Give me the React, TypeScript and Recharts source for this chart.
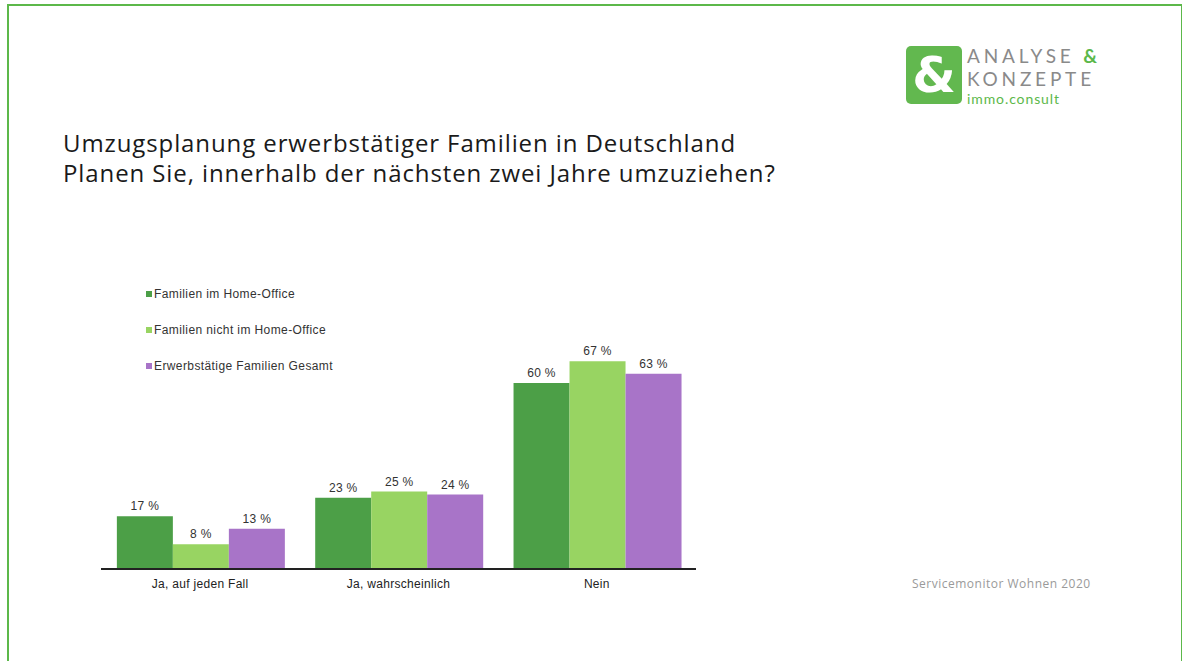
import React from "react";
import { BarChart, Bar, XAxis, YAxis, LabelList } from "recharts";

const categories = ["Ja, auf jeden Fall", "Ja, wahrscheinlich", "Nein"];
const homeOffice = [17, 23, 60];
const nichtHomeOffice = [8, 25, 67];
const gesamt = [13, 24, 63];

const seriesNames = [
  "Familien im Home-Office",
  "Familien nicht im Home-Office",
  "Erwerbstätige Familien Gesamt",
];
const seriesColors = ["#4c9f47", "#98d462", "#a874c8"];
const seriesKeys = ["homeOffice", "nichtHomeOffice", "gesamt"];

const data = categories.map((name, i) => ({
  name,
  homeOffice: homeOffice[i],
  nichtHomeOffice: nichtHomeOffice[i],
  gesamt: gesamt[i],
}));

const chartFont = "'Liberation Sans', Arial, sans-serif";

const logoLine: React.CSSProperties = {
  position: "absolute",
  left: 967,
  fontFamily: "Lato, sans-serif",
  color: "#8a8a8a",
  fontSize: 19,
  letterSpacing: 3.8,
  whiteSpace: "nowrap",
};

export default function App() {
  return (
    <div
      style={{
        position: "absolute",
        left: 0,
        top: 0,
        width: 1182,
        height: 661,
        background: "#fff",
        overflow: "hidden",
      }}
    >
      {/* green frame */}
      <div
        style={{
          position: "absolute",
          left: 7,
          top: 4,
          width: 1172,
          height: 700,
          border: "2px solid #5cb84a",
        }}
      />

      {/* logo */}
      <div
        style={{
          position: "absolute",
          left: 906,
          top: 46,
          width: 56,
          height: 58,
          background: "#62b84f",
          borderRadius: 5,
          color: "#fff",
          fontFamily: "'DejaVu Sans', sans-serif",
          fontWeight: "bold",
          fontSize: 50,
          lineHeight: "58px",
          textAlign: "center",
        }}
      >
        &amp;
      </div>
      <div style={{ ...logoLine, top: 44 }}>
        ANALYSE <span style={{ color: "#5cb84a", fontWeight: 700 }}>&amp;</span>
      </div>
      <div style={{ ...logoLine, top: 67 }}>KONZEPTE</div>
      <div
        style={{
          ...logoLine,
          top: 90,
          color: "#5cb84a",
          fontSize: 14,
          letterSpacing: 0.9,
        }}
      >
        immo.consult
      </div>

      {/* title */}
      <div
        style={{
          position: "absolute",
          left: 63,
          top: 128,
          fontFamily: "'Open Sans', sans-serif",
          fontSize: 24,
          letterSpacing: 0.9,
          lineHeight: "30px",
          color: "#1a1a1a",
          whiteSpace: "nowrap",
        }}
      >
        <div>Umzugsplanung erwerbstätiger Familien in Deutschland</div>
        <div>Planen Sie, innerhalb der nächsten zwei Jahre umzuziehen?</div>
      </div>

      {/* legend */}
      <div
        style={{
          position: "absolute",
          left: 146,
          top: 276,
          fontFamily: chartFont,
          fontSize: 12,
          letterSpacing: 0.4,
          color: "#333",
        }}
      >
        {seriesNames.map((n, i) => (
          <div key={n} style={{ display: "flex", alignItems: "center", height: 36 }}>
            <span
              style={{
                display: "inline-block",
                width: 6,
                height: 6,
                background: seriesColors[i],
                marginRight: 2,
              }}
            />
            {n}
          </div>
        ))}
      </div>

      <div style={{ position: "absolute", left: 0, top: 0 }}>
        <BarChart
          width={1182}
          height={661}
          data={data}
          margin={{ top: 352, right: 486, bottom: 62, left: 101 }}
          barCategoryGap="8%"
          barGap={0}
        >
          <XAxis
            dataKey="name"
            axisLine={{ stroke: "#222", strokeWidth: 2 }}
            tickLine={false}
            tickMargin={4}
            tick={{ fontSize: 12, fill: "#222", fontFamily: chartFont, letterSpacing: 0.3 }}
            height={30}
          />
          <YAxis hide domain={[0, 70]} />
          {seriesKeys.map((k, i) => (
            <Bar
              key={k}
              dataKey={k}
              name={seriesNames[i]}
              fill={seriesColors[i]}
              isAnimationActive={false}
            >
              <LabelList
                dataKey={k}
                position="top"
                offset={6}
                formatter={(v: any) => `${v} %`}
                style={{ fontSize: 12, fill: "#333", fontFamily: chartFont, letterSpacing: 0.3 }}
              />
            </Bar>
          ))}
        </BarChart>
      </div>

      <div
        style={{
          position: "absolute",
          left: 912,
          top: 575,
          fontFamily: "'Open Sans', sans-serif",
          fontSize: 12,
          letterSpacing: 0.5,
          color: "#9a9a9a",
          whiteSpace: "nowrap",
        }}
      >
        Servicemonitor Wohnen 2020
      </div>
    </div>
  );
}
